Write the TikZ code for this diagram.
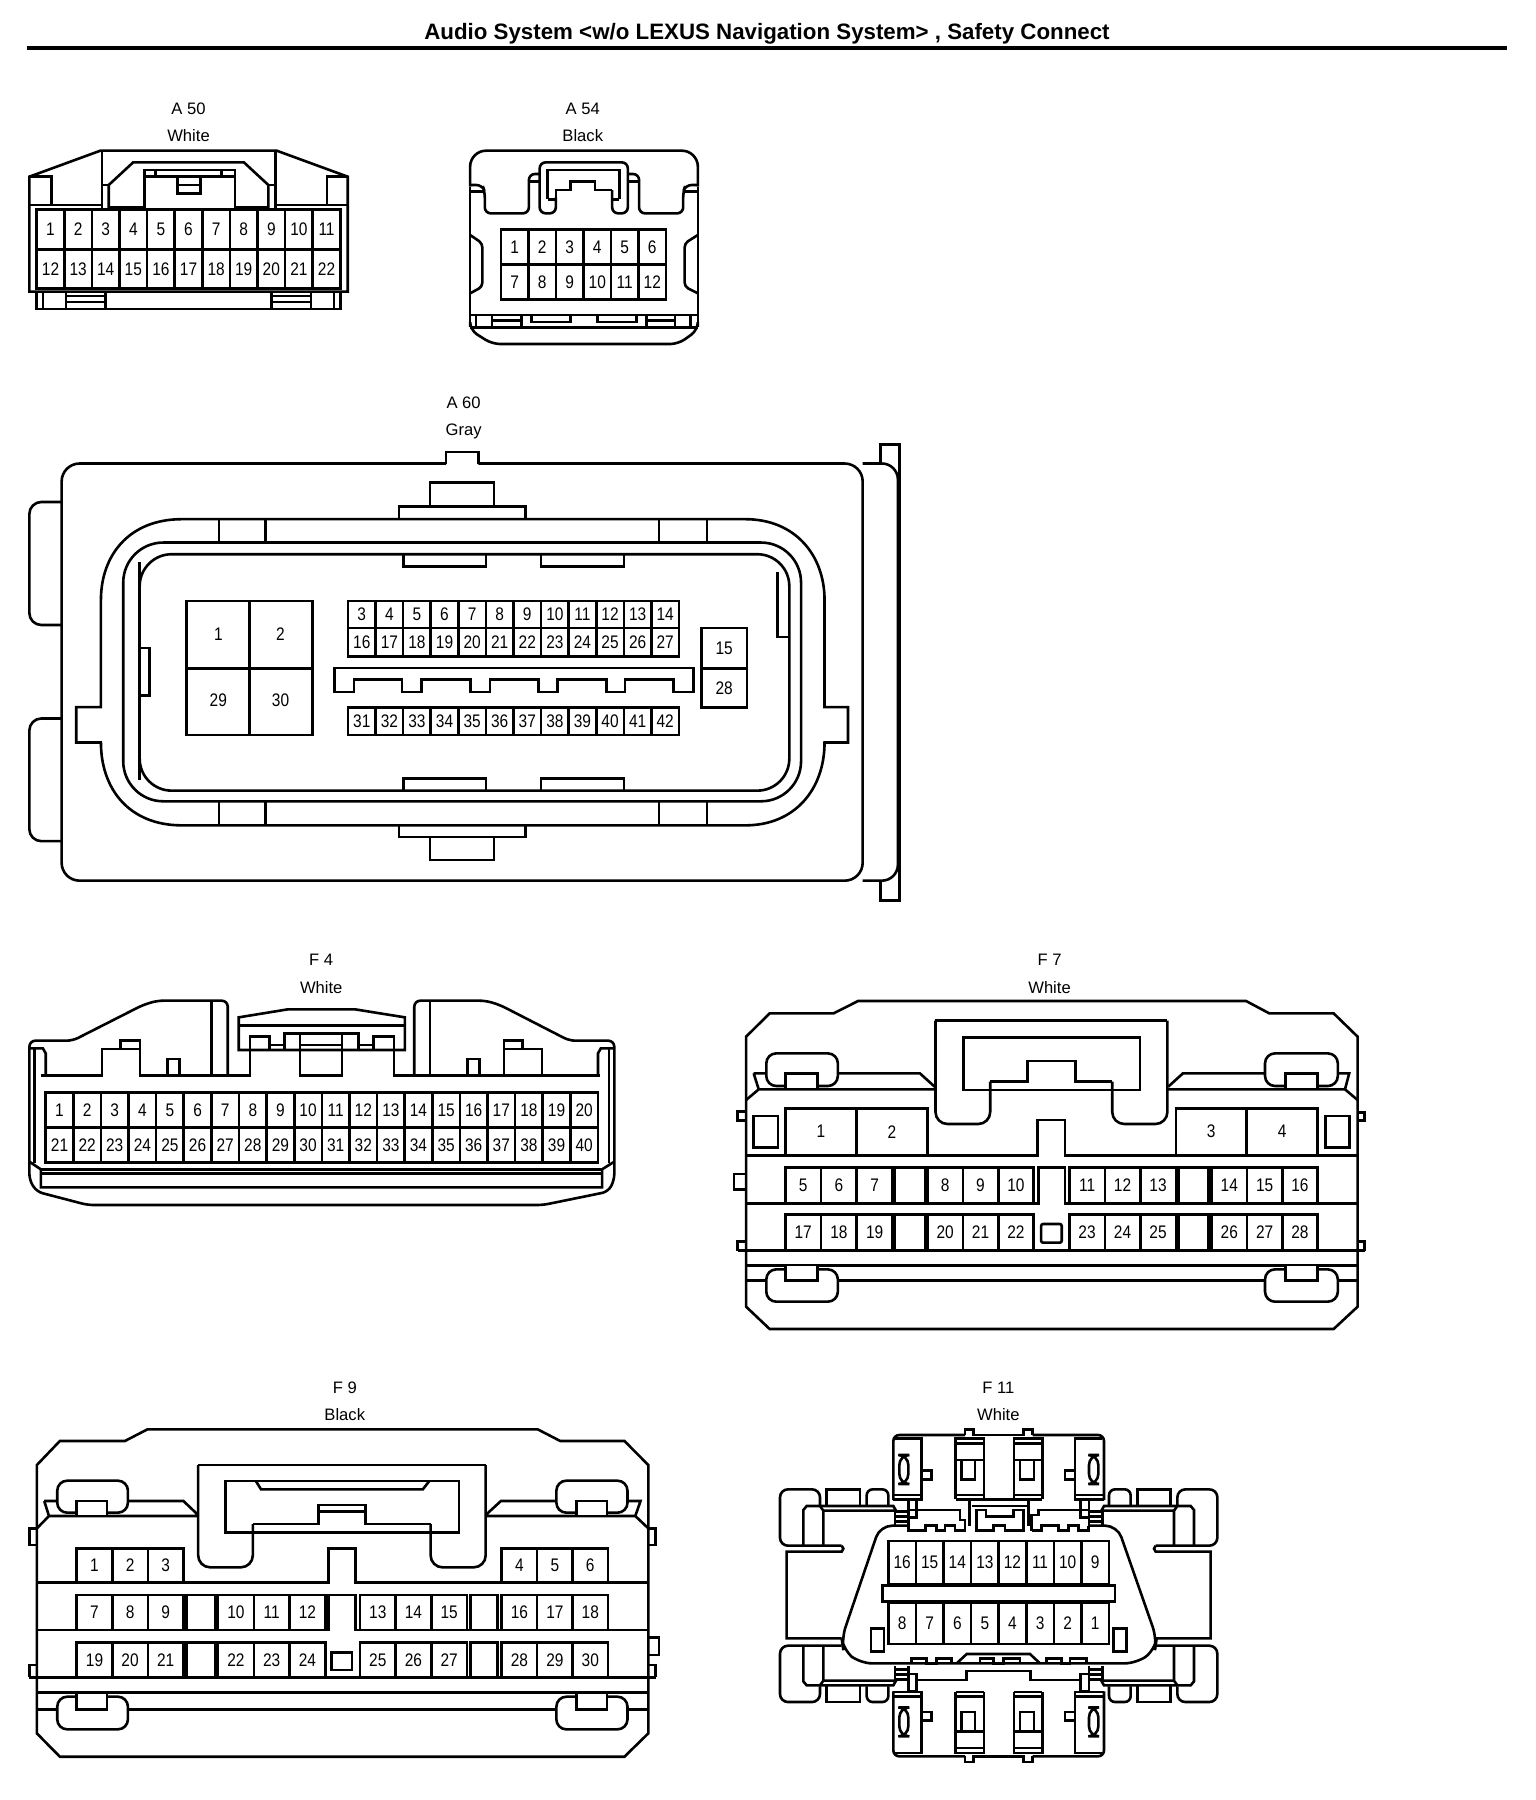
\documentclass[tikz,border=0pt]{standalone}
\usepackage{fontspec}
\setmainfont{Liberation Sans}
\newfontfamily\pinfont[FakeStretch=0.85]{Liberation Sans}
\newfontfamily\titlefont{Liberation Sans Bold}
\tikzset{
  ln/.style={line width=1.3pt,draw=black},
  pinlabel/.style={inner sep=0pt,font=\pinfont\fontsize{9.1pt}{10pt}\selectfont},
  caption/.style={inner sep=0pt,font=\fontsize{8.3pt}{9pt}\selectfont},
  z1/.style={x=0.24486pt,y=-0.16667pt},
  z2/.style={x=0.29343pt,y=-0.17182pt},
  z3/.style={x=0.20408pt,y=-0.16667pt},
  z4/.style={x=0.21044pt,y=-0.16667pt},
  z5/.style={x=0.21683pt,y=-0.16667pt},
  z6/.style={x=0.16667pt,y=-0.16667pt},
}
% prefix, x0, x1, y0, y1, n, first, step
\newcommand{\pinrow}[8]{%
  \draw[ln] (#2,#4) rectangle (#3,#5);
  \pgfmathsetmacro{\cy}{(#4+#5)/2}
  \pgfmathsetmacro{\cw}{(#3-#2)/#6}
  \foreach \i in {1,...,#6}{
    \pgfmathsetmacro{\cx}{#2+(\i-0.5)*\cw}
    \pgfmathtruncatemacro{\num}{#7+(\i-1)*#8}
    \node[pinlabel] (#1-\num) at (\cx,\cy) {\num};
    \ifnum\i<#6
      \pgfmathsetmacro{\dx}{#2+\i*\cw}
      \draw[ln] (\dx,#4) -- (\dx,#5);
    \fi
  }%
}
% F11 corner wing
\newcommand{\fwing}{%
  \draw[ln,rounded corners=4pt] (180,375)--(180,328)--(60,328)--(60,497)--(245,497);
  \draw[ln] (190,497)--(190,392)--(180,378)--(140,378)--(130,390)--(130,497);
  \draw[ln] (180,378)--(400,378)--(408,392)--(190,392);
  \draw[ln] (200,375)--(200,328)--(300,328)--(300,375);
  \draw[ln,rounded corners=3pt] (320,375)--(320,328)--(385,328)--(385,375);
  \draw[ln] (405,392)--(405,437) (405,395)--(442,395) (405,410)--(442,410) (405,425)--(442,425);
  \draw[ln] (445,437)--(445,360)--(470,360)--(470,412)--(445,412);
}
% F11 top housing
\newcommand{\fhousing}{%
  \draw[ln,rounded corners=3pt] (400,360)--(400,165)--(615,165);
  \draw[ln] (615,165)--(615,148)--(640,148)--(640,165)--(790,165)--(790,148)--(818,148)--(818,165);
  \draw[ln,rounded corners=3pt] (818,165)--(1032,165)--(1032,360);
  \draw[ln] (405,175)--(485,175)--(485,358)--(400,358);
  \draw[ln] (400,345)--(485,345);
  \draw[ln,rounded corners=5pt] (418,225)--(445,225)--(445,312)--(418,312)--cycle;
  \draw[ln] (485,272)--(515,272)--(515,298)--(485,298);
  \draw[ln] (587,358)--(587,175)--(672,175)--(672,358) (762,358)--(762,175)--(847,175)--(847,358);
  \draw[ln] (587,358)--(672,358) (762,358)--(847,358);
  \draw[ln] (587,190)--(672,190) (762,190)--(847,190) (587,240)--(672,240) (762,240)--(847,240);
  \draw[ln] (587,345)--(672,345) (762,345)--(847,345);
  \draw[ln] (605,240)--(605,298)--(645,298)--(645,240) (780,240)--(780,298)--(822,298)--(822,240);
  \draw[ln] (1027,175)--(945,175)--(945,358)--(1032,358);
  \draw[ln] (1032,345)--(945,345);
  \draw[ln,rounded corners=5pt] (987,225)--(1015,225)--(1015,312)--(987,312)--cycle;
  \draw[ln] (945,272)--(915,272)--(915,298)--(945,298);
}
\newcommand{\fside}{%
  \draw[ln] (245,497)--(250,506)--(245,515)--(80,515)--(80,775)--(245,775);
  \draw[ln] (333,745) rectangle (372,815);
}
\begin{document}
\begin{tikzpicture}[x=0.5pt,y=-0.5pt]
\useasboundingbox (0,0) rectangle (1536,1800);
\fill[white] (0,0) rectangle (1536,1800);
\node[inner sep=0pt,font=\titlefont\fontsize{11.15pt}{12pt}\selectfont] (title) at (767,34) {Audio System <w/o LEXUS Navigation System> , Safety Connect};
\coordinate (ruleL) at (27,48);
\coordinate (ruleR) at (1507,48);
\draw[line width=1.8pt] (ruleL) -- (ruleR);

% ---------- A50
\begin{scope}[z1]
\node[caption] (a50name) at (385,327) {A 50};
\node[caption] (a50col) at (385,407) {White};
\draw[ln] (60,530)--(205,452)--(565,452)--(710,530)--(710,875)--(60,875)--cycle;
\draw[ln] (208,452)--(208,630) (563,452)--(563,630);
\draw[ln] (60,530)--(105,530)--(105,615) (60,615)--(208,615);
\draw[ln] (710,530)--(668,530)--(668,615) (563,615)--(710,615);
\draw[ln] (222,630)--(222,555)--(272,487)--(498,487)--(548,555)--(548,630);
\draw[ln] (208,555)--(222,555) (548,555)--(563,555);
\draw[ln] (222,622)--(295,622) (480,622)--(548,622);
\draw[ln] (295,625)--(295,510)--(480,510)--(480,625);
\draw[ln] (295,530)--(480,530) (318,510)--(318,530) (452,510)--(452,530);
\draw[ln] (362,530)--(362,580)--(410,580)--(410,530) (362,555)--(410,555);
\pinrow{a50}{75}{695}{628}{748}{11}{1}{1}
\pinrow{a50}{75}{695}{748}{865}{11}{12}{1}
\draw[ln] (75,875)--(75,927)--(695,927)--(695,875);
\draw[ln] (88,875)--(88,927) (135,875)--(135,927) (215,875)--(215,927) (555,875)--(555,927) (635,875)--(635,927) (682,875)--(682,927);
\draw[ln] (135,888)--(215,888) (135,906)--(215,906) (555,888)--(635,888) (555,906)--(635,906);
\end{scope}

% ---------- A54
\begin{scope}[z1]
\node[caption] (a54name) at (1190,327) {A 54};
\node[caption] (a54col) at (1190,407) {Black};
\draw[ln,rounded corners=8pt] (960,560)--(960,452)--(1425,452)--(1425,560);
\draw[ln] (960,560)--(960,980) (1425,560)--(1425,980);
\draw[ln,rounded corners=4pt] (960,980)--(960,990)--(1005,1032)--(1385,1032)--(1425,990)--(1425,980);
\pinrow{a54}{1023}{1360}{688}{793}{6}{1}{1}
\pinrow{a54}{1023}{1360}{793}{898}{6}{7}{1}
\draw[ln] (960,945)--(1425,945) (960,982)--(1425,982);
\draw[ln] (972,945)--(972,982) (1005,945)--(1005,982) (1065,945)--(1065,982) (1320,945)--(1320,982) (1378,945)--(1378,982) (1410,945)--(1410,982);
\draw[ln] (1005,962)--(1065,962) (1320,962)--(1378,962);
\draw[ln] (1085,945)--(1085,966)--(1165,966)--(1165,945) (1220,945)--(1220,966)--(1300,966)--(1300,945);
\draw[ln,rounded corners=2pt] (960,705)--(985,730)--(985,860)--(960,880) (1425,705)--(1398,730)--(1398,860)--(1425,880);
\draw[ln] (960,575)--(990,575) (1395,575)--(1425,575);
\draw[ln,rounded corners=3pt] (962,555)--(985,555)--(990,575)--(990,640)--(1080,640)--(1080,522)--(1102,522);
\draw[ln] (1082,545)--(1102,545) (1282,545)--(1305,545);
\draw[ln,rounded corners=3pt] (1135,592)--(1135,640)--(1102,640)--(1102,487)--(1282,487)--(1282,640)--(1250,640)--(1250,570);
\draw[ln,rounded corners=3pt] (1282,522)--(1305,522)--(1305,640)--(1395,640)--(1395,575)--(1400,555)--(1423,555);
\draw[ln] (1118,598)--(1118,510)--(1265,510)--(1265,598);
\draw[ln] (1118,598)--(1135,598) (1250,598)--(1265,598);
\draw[ln] (1135,598)--(1135,570)--(1165,570)--(1165,545)--(1215,545)--(1215,570)--(1250,570);
\end{scope}

% ---------- A60
\begin{scope}[shift={(0,380)},z2]
\node[caption] (a60name) at (790,66) {A 60};
\node[caption] (a60col) at (790,150) {Gray};
\draw[ln,rounded corners=9pt] (760,243)--(105,243)--(105,1457)--(1470,1457)--(1470,243)--(815,243);
\draw[ln] (760,243)--(760,210)--(815,210)--(815,243);
\draw[ln,rounded corners=8pt] (1470,243)--(1530,243)--(1530,1457)--(1470,1457);
\draw[ln] (1500,243)--(1500,187)--(1533,187)--(1533,1515)--(1500,1515)--(1500,1457);
\draw[ln,rounded corners=6pt] (105,355)--(50,355)--(50,713)--(105,713);
\draw[ln,rounded corners=6pt] (105,985)--(50,985)--(50,1342)--(105,1342);
\draw[ln] (733,368)--(733,298)--(842,298)--(842,368) (680,403)--(680,368)--(895,368)--(895,403);
\draw[ln] (680,1298)--(680,1330)--(895,1330)--(895,1298) (733,1330)--(733,1397)--(842,1397)--(842,1330);
\draw[ln] (172,952)--(172,640) .. controls (172,510) and (220,405) .. (310,405)--(1270,405) .. controls (1355,405) and (1405,510) .. (1405,640)--(1405,952)--(1445,952)--(1445,1055)--(1405,1055) .. controls (1405,1190) and (1355,1296) .. (1270,1296)--(310,1296) .. controls (220,1296) and (172,1190) .. (172,1055)--(130,1055)--(130,952)--cycle;
\draw[ln,rounded corners=20pt] (210,760)--(210,473)--(1365,473)--(1365,1226)--(210,1226)--cycle;
\draw[ln,rounded corners=16pt] (238,760)--(238,507)--(1345,507)--(1345,1195)--(238,1195)--cycle;
\draw[ln] (238,530)--(238,1165);
\draw[ln] (238,780)--(255,780)--(255,918)--(238,918);
\draw[ln] (1325,560)--(1325,748)--(1345,748);
\foreach \x in {373,452,1123,1205}{\draw[ln] (\x,405)--(\x,473) (\x,1226)--(\x,1296);}
\draw[ln] (688,507)--(688,542)--(828,542)--(828,507) (922,507)--(922,542)--(1063,542)--(1063,507);
\draw[ln] (688,1195)--(688,1160)--(828,1160)--(828,1195) (922,1195)--(922,1160)--(1063,1160)--(1063,1195);
\draw[ln] (318,643) rectangle (532,1033) (425,643)--(425,1033) (318,840)--(532,840);
\node[pinlabel] (a60-1) at (372,740) {1};
\node[pinlabel] (a60-2) at (478,740) {2};
\node[pinlabel] (a60-29) at (372,933) {29};
\node[pinlabel] (a60-30) at (478,933) {30};
\pinrow{a60}{593}{1157}{643}{722}{12}{3}{1}
\pinrow{a60}{593}{1157}{722}{805}{12}{16}{1}
\pinrow{a60}{593}{1157}{953}{1033}{12}{31}{1}
\draw[ln] (570,838)--(1182,838)--(1182,908)--(1148,908)--(1148,872)--(1065,872)--(1065,908)--(1033,908)--(1033,872)--(950,872)--(950,908)--(918,908)--(918,872)--(835,872)--(835,908)--(802,908)--(802,872)--(718,872)--(718,908)--(685,908)--(685,872)--(603,872)--(603,908)--(570,908)--cycle;
\pinrow{a60}{1195}{1273}{722}{840}{1}{15}{1}
\pinrow{a60}{1195}{1273}{840}{953}{1}{28}{1}
\end{scope}

% ---------- F4
\begin{scope}[shift={(0,930)},z3]
\node[caption] (f4name) at (787,90) {F 4};
\node[caption] (f4col) at (787,172) {White};
\draw[ln,rounded corners=3pt] (558,437)--(558,212)--(385,212)--(350,225)--(178,332)--(72,332)--(72,750)--(90,785)--(215,825)--(1330,825)--(1490,785)--(1505,750)--(1505,332)--(1395,332)--(1225,225)--(1190,212)--(1015,212)--(1015,437);
\draw[ln] (518,212)--(518,437) (1053,212)--(1053,437);
\draw[ln] (72,355)--(105,355)--(112,370)--(112,437);
\draw[ln] (1505,355)--(1472,355)--(1465,370)--(1465,437);
\draw[ln] (85,355)--(85,700) (1492,355)--(1492,700);
\draw[ln] (100,437)--(250,437)--(250,357)--(343,357)--(343,437)--(612,437)--(612,320)--(660,320)--(660,357);
\draw[ln] (295,357)--(295,332)--(343,332)--(343,357);
\draw[ln] (410,437)--(410,387)--(440,387)--(440,437);
\draw[ln] (585,360)--(585,262)--(705,238)--(870,238)--(992,262)--(992,360)--cycle;
\draw[ln] (585,287)--(992,287);
\draw[ln] (660,345)--(697,345) (878,345)--(915,345);
\draw[ln] (697,357)--(697,310)--(878,310)--(878,357);
\draw[ln] (735,315)--(735,437)--(838,437)--(838,315) (735,345)--(838,345);
\draw[ln] (915,357)--(915,320)--(965,320)--(965,437)--(1328,437)--(1328,357)--(1235,357)--(1235,437);
\draw[ln] (1235,357)--(1235,332)--(1280,332)--(1280,357);
\draw[ln] (1328,437)--(1470,437);
\draw[ln] (1145,437)--(1145,387)--(1175,387)--(1175,437);
\pinrow{f4}{112}{1465}{488}{593}{20}{1}{1}
\pinrow{f4}{112}{1465}{593}{697}{20}{21}{1}
\draw[ln] (72,695)--(100,718)--(100,772)--(1475,772)--(1475,718)--(1505,695);
\draw[ln] (100,718)--(1475,718) (100,730)--(1475,730);
\end{scope}

% ---------- F7
\begin{scope}[shift={(720,930)},z4]
\node[caption] (f7name) at (783,90) {F 7};
\node[caption] (f7col) at (783,172) {White};
\draw[ln] (62,320)--(118,250)--(270,250)--(328,213)--(1250,213)--(1305,250)--(1458,250)--(1515,320)--(1515,1130)--(1458,1197)--(118,1197)--(62,1130)--cycle;
\draw[ln] (512,272)--(1063,272);
\draw[ln,rounded corners=6pt] (1063,272)--(1063,582)--(932,582)--(932,455);
\draw[ln] (932,455)--(845,455)--(845,393)--(730,393)--(730,455)--(642,455);
\draw[ln,rounded corners=6pt] (642,455)--(642,582)--(512,582)--(512,272);
\draw[ln] (578,322) rectangle (998,480);
\draw[ln] (80,430)--(475,430)--(510,470) (80,430)--(92,478)--(62,510) (92,478)--(512,478);
\draw[ln] (1065,470)--(1100,430)--(1495,430)--(1485,478)--(1515,510) (1063,478)--(1485,478);
\draw[ln,fill=white,rounded corners=5pt] (110,370) rectangle (280,468);
\draw[ln,fill=white,rounded corners=5pt] (1295,370) rectangle (1468,468);
\draw[ln,fill=white] (155,474)--(155,430)--(232,430)--(232,474);
\draw[ln,fill=white] (1343,474)--(1343,430)--(1420,430)--(1420,474);
\draw[ln] (80,558) rectangle (138,652) (1438,558) rectangle (1495,652);
\pinrow{f7}{155}{493}{535}{675}{2}{1}{1}
\pinrow{f7}{1083}{1420}{535}{675}{2}{3}{1}
\draw[ln] (62,677)--(755,677)--(755,570)--(820,570)--(820,677)--(1515,677);
\pinrow{f7}{155}{410}{712}{820}{3}{5}{1}
\draw[ln] (415,712) rectangle (487,820);
\pinrow{f7}{493}{745}{712}{820}{3}{8}{1}
\pinrow{f7}{830}{1083}{712}{820}{3}{11}{1}
\draw[ln] (1090,712) rectangle (1160,820);
\pinrow{f7}{1168}{1420}{712}{820}{3}{14}{1}
\draw[ln] (62,820)--(757,820)--(757,712)--(820,712)--(820,820)--(1515,820);
\pinrow{f7}{155}{410}{853}{962}{3}{17}{1}
\draw[ln] (415,853) rectangle (487,962);
\pinrow{f7}{493}{745}{853}{962}{3}{20}{1}
\pinrow{f7}{830}{1083}{853}{962}{3}{23}{1}
\draw[ln] (1090,853) rectangle (1160,962);
\pinrow{f7}{1168}{1420}{853}{962}{3}{26}{1}
\draw[ln,rounded corners=1pt] (763,882) rectangle (812,938);
\draw[ln] (42,962)--(1532,962);
\draw[ln] (62,545)--(42,545)--(42,572)--(62,572) (62,732)--(33,732)--(33,778)--(62,778) (62,935)--(42,935)--(42,962);
\draw[ln] (1515,548)--(1532,548)--(1532,572)--(1515,572) (1515,935)--(1532,935)--(1532,962);
\draw[ln] (62,1007)--(1515,1007) (62,1052)--(1515,1052);
\draw[ln,fill=white,rounded corners=5pt] (110,1018) rectangle (280,1115);
\draw[ln,fill=white,rounded corners=5pt] (1295,1018) rectangle (1468,1115);
\draw[ln,fill=white] (155,1007)--(155,1052)--(232,1052)--(232,1007);
\draw[ln,fill=white] (1343,1007)--(1343,1052)--(1420,1052)--(1420,1007);
\end{scope}

% ---------- F9
\begin{scope}[shift={(0,1360)},z5]
\node[caption] (f9name) at (795,82) {F 9};
\node[caption] (f9col) at (795,165) {Black};
\draw[ln] (85,315)--(138,243)--(288,243)--(340,208)--(1240,208)--(1292,243)--(1440,243)--(1495,315)--(1495,1120)--(1440,1190)--(138,1190)--(85,1120)--cycle;
\draw[ln] (457,315)--(1120,315);
\draw[ln,rounded corners=6pt] (1120,315)--(1120,622)--(993,622)--(993,492);
\draw[ln] (993,492)--(843,492)--(843,435)--(735,435)--(735,492)--(583,492);
\draw[ln,rounded corners=6pt] (583,492)--(583,622)--(457,622)--(457,315);
\draw[ln] (735,455)--(843,455);
\draw[ln] (520,363) rectangle (1058,518);
\draw[ln] (590,363)--(602,388)--(975,388)--(990,363);
\draw[ln] (102,423)--(423,423)--(457,465) (102,423)--(113,468)--(85,505) (113,468)--(457,468);
\draw[ln] (1120,465)--(1155,423)--(1477,423)--(1465,468)--(1495,505) (1120,468)--(1465,468);
\draw[ln,fill=white,rounded corners=5pt] (132,362) rectangle (295,458);
\draw[ln,fill=white,rounded corners=5pt] (1283,362) rectangle (1447,458);
\draw[ln,fill=white] (177,465)--(177,423)--(247,423)--(247,465);
\draw[ln,fill=white] (1330,465)--(1330,423)--(1400,423)--(1400,465);
\draw[ln] (85,505)--(68,505)--(68,555)--(85,555) (1495,505)--(1512,505)--(1512,555)--(1495,555);
\draw[ln] (1495,833)--(1520,833)--(1520,885)--(1495,885);
\draw[ln] (85,915)--(68,915)--(68,952) (1495,915)--(1512,915)--(1512,952);
\pinrow{f9}{177}{423}{565}{668}{3}{1}{1}
\pinrow{f9}{1157}{1402}{565}{668}{3}{4}{1}
\draw[ln] (85,668)--(757,668)--(757,565)--(820,565)--(820,668)--(1495,668);
\pinrow{f9}{177}{423}{705}{810}{3}{7}{1}
\draw[ln] (430,705) rectangle (497,810);
\pinrow{f9}{503}{750}{705}{810}{3}{10}{1}
\pinrow{f9}{830}{1077}{705}{810}{3}{13}{1}
\draw[ln] (1085,705) rectangle (1147,810);
\pinrow{f9}{1157}{1402}{705}{810}{3}{16}{1}
\draw[ln] (85,810)--(757,810)--(757,705)--(820,705)--(820,810)--(1495,810);
\pinrow{f9}{177}{423}{847}{952}{3}{19}{1}
\draw[ln] (430,847) rectangle (497,952);
\pinrow{f9}{503}{750}{847}{952}{3}{22}{1}
\pinrow{f9}{830}{1077}{847}{952}{3}{25}{1}
\draw[ln] (1085,847) rectangle (1147,952);
\pinrow{f9}{1157}{1402}{847}{952}{3}{28}{1}
\draw[ln] (765,877) rectangle (812,930);
\draw[ln] (68,952)--(1512,952);
\draw[ln] (85,998)--(1495,998) (85,1048)--(1495,1048);
\draw[ln,fill=white,rounded corners=5pt] (132,1010) rectangle (295,1108);
\draw[ln,fill=white,rounded corners=5pt] (1283,1010) rectangle (1447,1108);
\draw[ln,fill=white] (177,1003)--(177,1048)--(247,1048)--(247,1003);
\draw[ln,fill=white] (1330,1003)--(1330,1048)--(1400,1048)--(1400,1003);
\end{scope}

% ---------- F11
\begin{scope}[shift={(760,1380)},z6]
\node[caption] (f11name) at (715,24) {F 11};
\node[caption] (f11col) at (715,105) {White};
\fhousing
\begin{scope}[shift={(0,1294)},yscale=-1]\fhousing\end{scope}
\draw[ln] (672,358)--(762,358);
\fwing
\begin{scope}[shift={(1432,0)},xscale=-1]\fwing\end{scope}
\begin{scope}[shift={(0,1294)},yscale=-1]\fwing\end{scope}
\begin{scope}[shift={(1432,1294)},xscale=-1,yscale=-1]\fwing\end{scope}
\fside
\begin{scope}[shift={(1432,0)},xscale=-1]\fside\end{scope}
% body
\draw[ln,rounded corners=6pt] (445,437)--(360,437)--(245,775)--(250,810)--(300,850)--(1130,850)--(1185,810)--(1190,775)--(1072,437)--(985,437);
% top serration
\draw[ln] (445,437)--(445,452)--(497,452)--(497,437)--(530,437)--(530,452)--(555,452)--(555,437)--(585,437)--(585,452)--(615,452)--(615,420)--(600,420)--(600,390)--(445,390);
\draw[ln] (628,360)--(628,437) (805,360)--(805,437) (635,378)--(800,378) (628,360)--(805,360);
\draw[ln] (650,437)--(650,390)--(678,390)--(678,410)--(760,410)--(760,390)--(790,390)--(790,437);
\draw[ln] (650,437)--(650,452)--(700,452)--(700,437)--(735,437)--(735,452)--(790,452)--(790,437);
\draw[ln] (815,452)--(815,405)--(835,405)--(835,390)--(985,390);
\draw[ln] (815,452)--(845,452)--(845,437)--(895,437)--(895,452)--(925,452)--(925,437)--(955,437)--(955,452)--(985,452)--(985,437);
% lower serration
\draw[ln] (455,850)--(455,835)--(500,835)--(500,850)--(530,850)--(530,835)--(575,835)--(575,850);
\draw[ln] (590,850)--(620,822)--(810,822)--(840,850);
\draw[ln] (660,850)--(660,835)--(700,835)--(700,850)--(730,850)--(730,835)--(780,835)--(780,850);
\draw[ln] (860,850)--(860,835)--(905,835)--(905,850)--(930,850)--(930,835)--(980,835)--(980,850);
\draw[ln] (470,900)--(620,900)--(620,873)--(812,873)--(812,900)--(965,900);
% pins
\pinrow{f11}{385}{1047}{483}{612}{8}{16}{-1}
\pinrow{f11}{385}{1047}{668}{792}{8}{8}{-1}
\draw[ln,fill=white] (368,617) rectangle (1065,665);
\end{scope}
\end{tikzpicture}
\end{document}
